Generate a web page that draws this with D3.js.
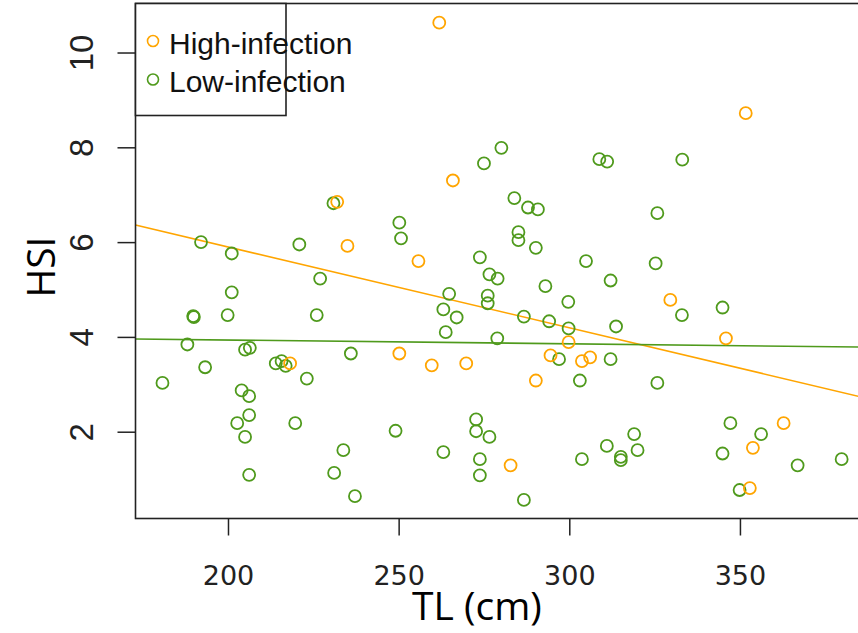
<!DOCTYPE html>
<html>
<head>
<meta charset="utf-8">
<script src="https://cdn.jsdelivr.net/npm/d3@7"></script>
<style>
  body { margin: 0; background: #fff; }
</style>
</head>
<body>
<div id="chart-area"></div>
<script>
// High / low infection: TL (cm) vs HSI, with fitted lines

var highTL  = [232.0, 235.0, 261.9, 265.9, 255.8, 351.7, 218.2, 299.8, 250.2, 259.7, 269.8,
               294.5, 303.7, 306.1, 290.2, 282.8, 329.6, 345.9, 362.8, 353.8, 352.9];
var highHSI = [6.85, 5.92, 10.63, 7.30, 5.60, 8.72, 3.44, 3.89, 3.65, 3.40, 3.44,
               3.61, 3.49, 3.57, 3.08, 1.29, 4.78, 3.97, 2.18, 1.66, 0.81];

var lowTL  = [230.9, 192.1, 201.1, 220.9, 280.1, 275.0, 308.8, 311.1, 283.9, 287.9, 290.8,
              250.2, 250.7, 285.1, 285.1, 290.2, 273.8, 304.9, 333.1, 325.8, 325.3, 227.0,
              201.1, 189.8, 190.0, 199.9, 226.0, 188.1, 205.0, 206.4, 236.0, 193.3, 214.0,
              215.7, 216.9, 180.8, 223.1, 204.0, 206.2, 206.2, 202.7, 219.7, 205.0, 233.8,
              231.1, 206.2, 237.2, 276.6, 279.0, 312.1, 293.0, 264.8, 276.1, 276.1, 299.7,
              263.1, 267.0, 286.7, 294.1, 299.8, 313.7, 263.8, 278.9, 297.0, 312.1, 303.1,
              249.1, 272.7, 272.7, 276.6, 263.1, 273.8, 273.8, 303.7, 311.0, 315.1, 315.1,
              286.7, 344.9, 333.0, 325.8, 347.2, 319.0, 356.2, 320.0, 344.9, 366.9, 379.8,
              349.9];
var lowHSI = [6.82, 6.00, 5.76, 5.95, 7.99, 7.66, 7.75, 7.70, 6.93, 6.73, 6.69,
              6.41, 6.08, 6.21, 6.04, 5.88, 5.68, 5.60, 7.74, 6.61, 5.55, 5.23,
              4.94, 4.44, 4.42, 4.46, 4.46, 3.84, 3.73, 3.77, 3.65, 3.36, 3.44,
              3.49, 3.39, 3.03, 3.12, 2.87, 2.75, 2.35, 2.18, 2.18, 1.89, 1.61,
              1.13, 1.09, 0.64, 5.32, 5.23, 5.19, 5.07, 4.91, 4.87, 4.71, 4.74,
              4.58, 4.41, 4.43, 4.33, 4.18, 4.22, 4.10, 3.97, 3.53, 3.53, 3.08,
              2.02, 2.26, 2.01, 1.89, 1.57, 1.42, 1.08, 1.42, 1.70, 1.47, 1.40,
              0.56, 4.62, 4.46, 3.03, 2.18, 1.95, 1.95, 1.61, 1.54, 1.29, 1.42,
              0.77];

// fitted lines: [intercept, slope]
var highFit = [9.31, -0.01706];
var lowFit  = [4.094, -0.000798];

var xTicks = [200, 250, 300, 350];
var yTicks = [2, 4, 6, 8, 10];
var legendLabels = ["High-infection", "Low-infection"];

var orange = "#FFA500",
    green = "#4f9a1c";

var width = 858, height = 633;
var plot = {left: 135.5, top: 3.5, right: 875, bottom: 518.5};

var svg = d3.select("#chart-area")
    .append("svg")
        .attr("width", width)
        .attr("height", height)
        .style("display", "block");

svg.append("rect")
    .attr("width", width)
    .attr("height", height)
    .attr("fill", "#fff");

// Scales
var x = d3.scaleLinear()
    .domain([172.9, 390.0])
    .range([plot.left, plot.left + (390.0 - 172.9) * 3.413]);

var y = d3.scaleLinear()
    .domain([0.169, 11.034])
    .range([plot.bottom, plot.top]);

svg.append("clipPath")
    .attr("id", "clip")
  .append("rect")
    .attr("x", plot.left)
    .attr("y", plot.top)
    .attr("width", plot.right - plot.left)
    .attr("height", plot.bottom - plot.top);

// Axes
var xAxis = d3.axisBottom(x)
    .tickValues(xTicks)
    .tickSize(17)
    .tickPadding(0)
    .tickFormat(d => d);
var gx = svg.append("g")
    .attr("transform", "translate(0," + plot.bottom + ")")
    .call(xAxis);
gx.select(".domain").remove();
gx.selectAll(".tick line").attr("stroke", "#222").attr("stroke-width", 1.5);
gx.selectAll(".tick text")
    .attr("y", 66)
    .attr("dy", null)
    .attr("fill", "#222")
    .style("font-family", "'DejaVu Sans', sans-serif")
    .style("font-size", "27px");

var yAxis = d3.axisLeft(y)
    .tickValues(yTicks)
    .tickSize(18)
    .tickFormat(d => d);
var gy = svg.append("g")
    .attr("transform", "translate(" + plot.left + ",0)")
    .call(yAxis);
gy.select(".domain").remove();
gy.selectAll(".tick line").attr("stroke", "#222").attr("stroke-width", 1.5);
gy.selectAll(".tick text")
    .attr("x", null)
    .attr("dy", null)
    .attr("text-anchor", "middle")
    .attr("transform", "translate(-43,0) rotate(-90)")
    .attr("fill", "#222")
    .style("font-family", "'Liberation Sans Narrow', 'Liberation Sans', sans-serif")
    .style("font-size", "33px");

// Axis labels
svg.append("text")
    .attr("x", 477)
    .attr("y", 620)
    .attr("text-anchor", "middle")
    .style("font-family", "'Open Sans', sans-serif")
    .style("font-size", "39px")
    .text("TL (cm)");

svg.append("text")
    .attr("transform", "translate(55,267) rotate(-90)")
    .attr("text-anchor", "middle")
    .style("font-family", "'Open Sans', sans-serif")
    .style("font-size", "39px")
    .text("HSI");

// Fitted lines
var fitLine = (fit) => {
    var x0 = x.invert(plot.left), x1 = x.invert(plot.right);
    return [[x0, fit[0] + fit[1] * x0], [x1, fit[0] + fit[1] * x1]];
};
var line = d3.line()
    .x(d => x(d[0]))
    .y(d => y(d[1]));

var lines = svg.append("g").attr("clip-path", "url(#clip)");
lines.append("path")
    .attr("d", line(fitLine(highFit)))
    .attr("fill", "none")
    .attr("stroke", orange)
    .attr("stroke-width", 1.6);
lines.append("path")
    .attr("d", line(fitLine(lowFit)))
    .attr("fill", "none")
    .attr("stroke", green)
    .attr("stroke-width", 1.6);

// Points
function drawPoints(tl, hsi, colour) {
    svg.append("g")
        .selectAll("circle")
        .data(d3.range(tl.length))
        .enter()
        .append("circle")
            .attr("cx", i => x(tl[i]))
            .attr("cy", i => y(hsi[i]))
            .attr("r", 6)
            .attr("fill", "none")
            .attr("stroke", colour)
            .attr("stroke-width", 1.8);
}
drawPoints(lowTL, lowHSI, green);
drawPoints(highTL, highHSI, orange);

// Plot box
svg.append("rect")
    .attr("x", plot.left)
    .attr("y", plot.top)
    .attr("width", plot.right - plot.left)
    .attr("height", plot.bottom - plot.top)
    .attr("fill", "none")
    .attr("stroke", "#222")
    .attr("stroke-width", 1.6);

// Legend
var legend = svg.append("g");
legend.append("rect")
    .attr("x", plot.left)
    .attr("y", plot.top)
    .attr("width", 286 - plot.left)
    .attr("height", 115.5 - plot.top)
    .attr("fill", "#fff")
    .attr("stroke", "#222")
    .attr("stroke-width", 1.6);

var legendColours = [orange, green];
legendLabels.forEach((label, i) => {
    var cy = 41 + i * 38.5;
    legend.append("circle")
        .attr("cx", 153)
        .attr("cy", cy)
        .attr("r", 5.5)
        .attr("fill", "none")
        .attr("stroke", legendColours[i])
        .attr("stroke-width", 1.6);
    legend.append("text")
        .attr("x", 169)
        .attr("y", cy + 12.5)
        .attr("fill", "#111")
        .style("font-family", "'Liberation Sans', Arial, sans-serif")
        .style("font-size", "30px")
        .text(label);
});
</script>
</body>
</html>
